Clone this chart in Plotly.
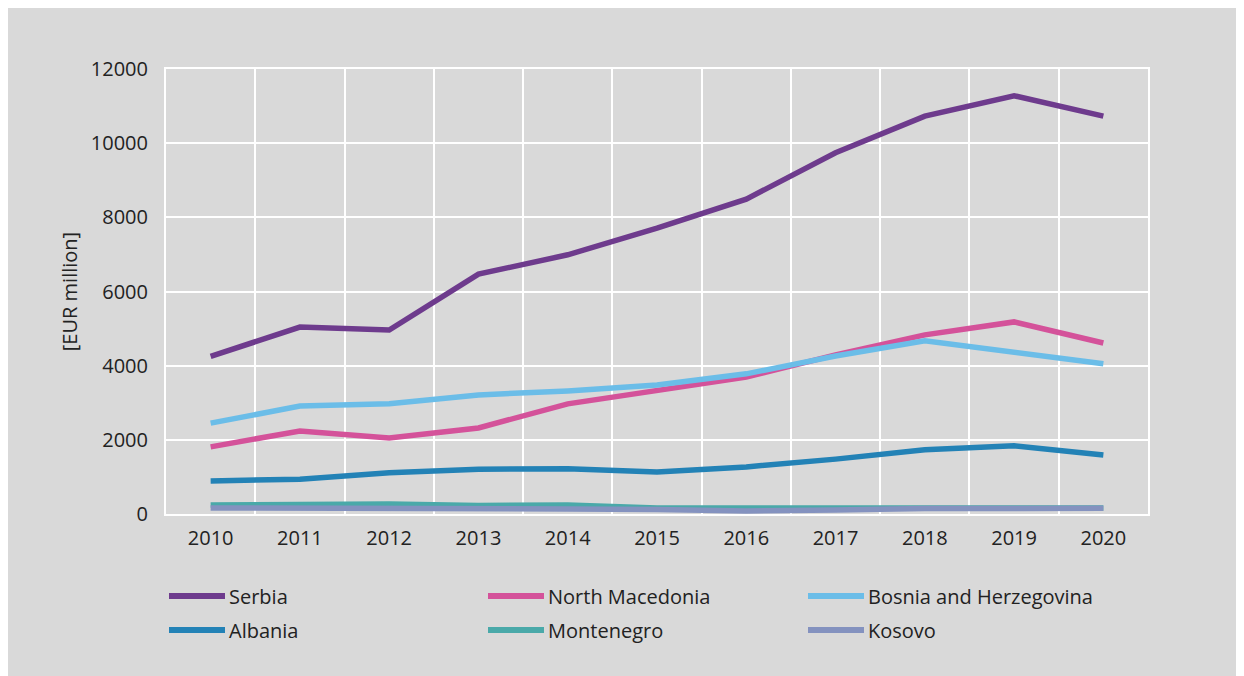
import plotly.graph_objects as go

years = ["2010", "2011", "2012", "2013", "2014", "2015", "2016", "2017", "2018", "2019", "2020"]
serbia = [4250, 5040, 4960, 6470, 6990, 7710, 8490, 9740, 10730, 11280, 10730]
north_macedonia = [1810, 2240, 2050, 2320, 2970, 3340, 3690, 4290, 4830, 5180, 4610]
bosnia = [2450, 2910, 2970, 3210, 3320, 3480, 3780, 4260, 4670, 4370, 4050]
albania = [890, 940, 1110, 1210, 1220, 1130, 1270, 1480, 1730, 1840, 1590]
montenegro = [240, 255, 270, 230, 240, 160, 160, 165, 175, 165, 160]
kosovo = [165, 165, 160, 145, 135, 120, 80, 110, 150, 150, 155]

series = [
    ("Serbia", serbia, "#6e3b8d"),
    ("North Macedonia", north_macedonia, "#d4529a"),
    ("Bosnia and Herzegovina", bosnia, "#6bbde8"),
    ("Albania", albania, "#2382b6"),
    ("Montenegro", montenegro, "#4aa9a9"),
    ("Kosovo", kosovo, "#8492bf"),
]

FONT = "Open Sans, Noto Sans, sans-serif"
FS = 20
W, H = 1236, 668
L, T, R, B = 158, 61, 96, 162
PW, PH = W - L - R, H - T - B


def px(xs):  # screen x -> paper x
    return (xs - 8 - L) / PW


def py(ys):  # screen y -> paper y
    return 1 - (ys - 8 - T) / PH


fig = go.Figure()
for name, vals, col in series:
    fig.add_trace(go.Scatter(x=years, y=vals, name=name, mode="lines",
                             showlegend=False, line=dict(color=col, width=5.5)))

fig.add_shape(type="rect", xref="paper", yref="paper", layer="below",
              x0=-L / PW, x1=(1229 - L) / PW, y0=-B / PH, y1=(PH + T) / PH,
              fillcolor="#d9d9d9", line=dict(width=0))

# legend drawn as line samples + labels (3 columns x 2 rows)
col_x = [169, 488, 808]
row_y = [596, 630]
for i, (name, vals, col) in enumerate(series):
    xs = col_x[i % 3]
    ys = row_y[i // 3]
    fig.add_shape(type="line", xref="paper", yref="paper",
                  x0=px(xs), x1=px(xs + 56), y0=py(ys), y1=py(ys),
                  line=dict(color=col, width=6))
    fig.add_annotation(xref="paper", yref="paper", x=px(xs + 58), y=py(ys),
                       xanchor="left", yanchor="middle", showarrow=False,
                       text=name, font=dict(family=FONT, size=FS, color="#222222"))

fig.update_layout(
    width=W, height=H,
    margin=dict(l=L, r=R, t=T, b=B),
    paper_bgcolor="white",
    plot_bgcolor="#d9d9d9",
    font=dict(family=FONT, size=FS, color="#222222"),
    showlegend=False,
    xaxis=dict(type="category", tickson="boundaries", range=[-0.5, 10.5],
               showgrid=True, gridcolor="white", gridwidth=2, ticks="",
               showline=True, linecolor="white", linewidth=2, mirror=True,
               zeroline=False, tickfont=dict(size=FS), ticklabelstandoff=5),
    yaxis=dict(range=[0, 12000], dtick=2000, tickformat="d", showgrid=True,
               gridcolor="white", gridwidth=2, zeroline=True, zerolinecolor="white",
               zerolinewidth=3, showline=True, linecolor="white", linewidth=2,
               mirror=True, ticks="", tickfont=dict(size=FS),
               title=dict(text="[EUR million]", font=dict(size=FS), standoff=8),
               ticklabelstandoff=12),
)

fig.write_html("out.html")
